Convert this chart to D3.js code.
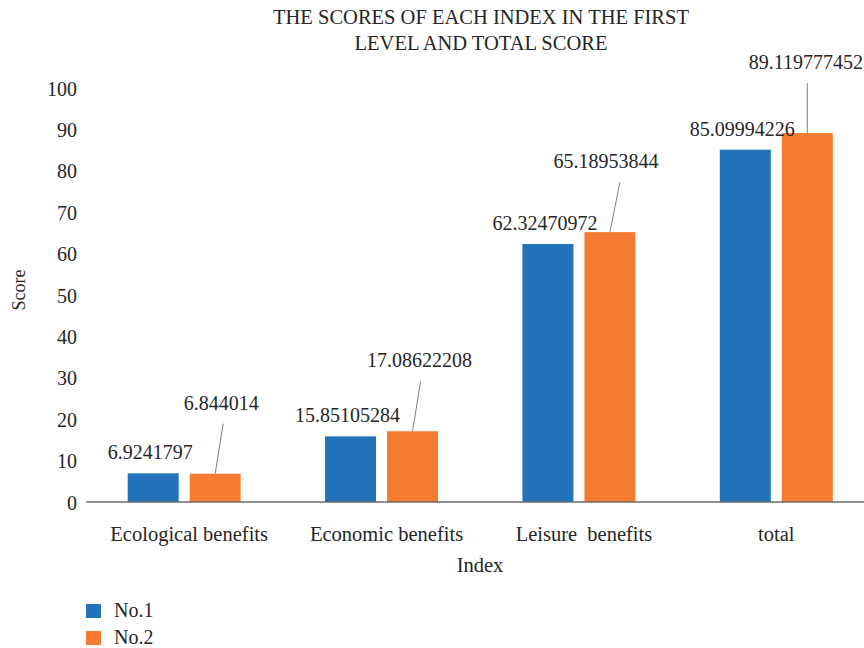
<!DOCTYPE html>
<html>
<head>
<meta charset="utf-8">
<script src="https://cdn.jsdelivr.net/npm/d3@7"></script>
<style>
  html, body { margin: 0; padding: 0; background: #ffffff; }
  svg { display: block; }
</style>
</head>
<body>
<svg id="chart" width="864" height="648"></svg>
<script>
// Index categories and the two scored schemes
const categories = ["Ecological benefits", "Economic benefits", "Leisure  benefits", "total"];
const seriesNames = ["No.1", "No.2"];
const no1Values = [6.9241797, 15.85105284, 62.32470972, 85.09994226];
const no2Values = [6.844014, 17.08622208, 65.18953844, 89.119777452];
const no1Labels = ["6.9241797", "15.85105284", "62.32470972", "85.09994226"];
const no2Labels = ["6.844014", "17.08622208", "65.18953844", "89.119777452"];
const yTicks = [0, 10, 20, 30, 40, 50, 60, 70, 80, 90, 100];

const colors = ["#2372ba", "#f47b2f"];
const FONT = "'Liberation Serif', 'Times New Roman', serif";
const INK = "#262626";

const svg = d3.select("#chart");
const W = 864;
const plot = { left: 85.5, right: 875, top: 88, bottom: 502 };

function styleText(sel, size) {
  return sel.attr("font-family", FONT).style("font-family", FONT)
    .style("font-size", size + "px").attr("fill", INK);
}

// Title
const title = styleText(svg.append("text").attr("text-anchor", "middle"), 20.5);
title.append("tspan").attr("x", 481).attr("y", 24).text("THE SCORES OF EACH INDEX IN THE FIRST");
title.append("tspan").attr("x", 481).attr("y", 50).text("LEVEL AND TOTAL SCORE");

// Scales
const x = d3.scaleBand().domain(categories).range([plot.left, plot.right]).padding(0);
const groupWidth = 113;
const xSub = d3.scaleBand().domain(seriesNames).range([0, groupWidth]).paddingInner(11 / 62).paddingOuter(0);
const y = d3.scaleLinear().domain([0, 100]).range([plot.bottom, plot.top]);

const groupStart = c => x(c) + (x.bandwidth() - groupWidth) / 2;

// Y axis: tick labels only, no line or tick marks
const yAxis = d3.axisLeft(y).tickValues(yTicks).tickSize(0).tickPadding(0).tickFormat(d3.format("d"));
const gy = svg.append("g").attr("transform", "translate(77,0)").call(yAxis);
gy.attr("font-family", null).attr("font-size", null);
gy.select(".domain").remove();
styleText(gy.selectAll("text"), 20).attr("dy", "0.35em");

// Bars
const rows = categories.map((c, i) => ({ cat: c, vals: [no1Values[i], no2Values[i]] }));
const groups = svg.append("g").selectAll("g").data(rows).join("g")
  .attr("transform", d => `translate(${groupStart(d.cat)},0)`);
groups.selectAll("rect").data(d => d.vals.map((v, j) => ({ v, s: seriesNames[j], j })))
  .join("rect")
  .attr("x", d => xSub(d.s))
  .attr("y", d => y(d.v))
  .attr("width", xSub.bandwidth())
  .attr("height", d => y(0) - y(d.v))
  .attr("fill", d => colors[d.j]);

// X axis category labels and baseline
const xAxis = d3.axisBottom(x).tickSize(0).tickPadding(0);
const gx = svg.append("g").attr("transform", `translate(0,${plot.bottom})`).call(xAxis);
gx.attr("font-family", null).attr("font-size", null);
gx.select(".domain").remove();
styleText(gx.selectAll("text"), 20.5)
  .attr("dy", 0)
  .attr("y", 39)
  .attr("dx", (d, i) => (i < 3 ? 5 : 0))
  .style("white-space", "pre")
  .attr("xml:space", "preserve");
svg.append("line")
  .attr("x1", 86).attr("x2", W)
  .attr("y1", plot.bottom).attr("y2", plot.bottom)
  .attr("stroke", "#6b6b6b").attr("stroke-width", 1.5);

// Value labels: No.1 sits above its bar, No.2 is lifted with a leader line
const leaderSlant = [8, 8, 10, 0];
const no2Shift = [6, 7, -4, 0];
categories.forEach((c, i) => {
  const cx1 = groupStart(c) + xSub("No.1") + xSub.bandwidth() / 2;
  const cx2 = groupStart(c) + xSub("No.2") + xSub.bandwidth() / 2;
  const top1 = y(no1Values[i]);
  const top2 = y(no2Values[i]);

  styleText(svg.append("text"), 20)
    .attr("x", cx1 - 3).attr("y", top1 - 14)
    .attr("text-anchor", "middle")
    .text(no1Labels[i]);

  svg.append("line")
    .attr("x1", cx2 + leaderSlant[i]).attr("y1", top2 - 50)
    .attr("x2", cx2).attr("y2", top2)
    .attr("stroke", "#808080").attr("stroke-width", 1);

  const t2 = styleText(svg.append("text"), 20)
    .attr("x", cx2 + no2Shift[i]).attr("y", top2 - 64)
    .attr("text-anchor", "middle")
    .text(no2Labels[i]);
  // keep the rightmost label inside the frame
  const bb = t2.node().getBBox();
  if (bb.x + bb.width > W - 1) t2.attr("x", +t2.attr("x") - (bb.x + bb.width - (W - 1)));
});

// Axis titles
styleText(svg.append("text"), 20.5)
  .attr("x", 480).attr("y", 572)
  .attr("text-anchor", "middle")
  .text("Index");
styleText(svg.append("text"), 18)
  .attr("transform", "translate(25,290) rotate(-90)")
  .attr("text-anchor", "middle")
  .text("Score");

// Legend
const legend = svg.append("g").selectAll("g").data(seriesNames).join("g")
  .attr("transform", (d, i) => `translate(86,${604 + i * 27})`);
legend.append("rect").attr("width", 15).attr("height", 14).attr("fill", (d, i) => colors[i]);
styleText(legend.append("text"), 20).attr("x", 28).attr("y", 13).text(d => d);
</script>
</body>
</html>
